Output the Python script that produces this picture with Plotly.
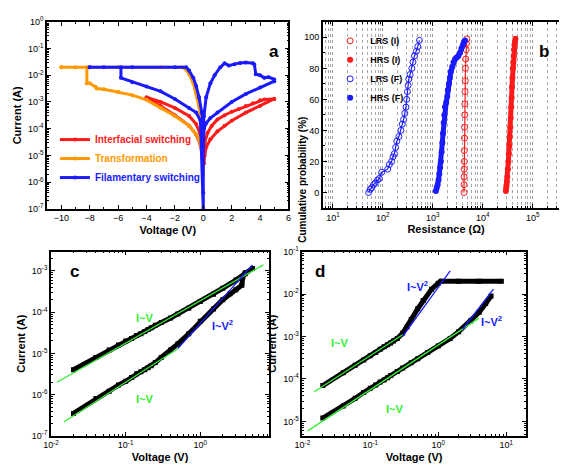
import plotly.graph_objects as go

# ---- panel a: I-V loops
red_up_v = [0.02, 0.1, 0.3, 0.6, 1, 1.5, 2, 2.5, 3, 3.5, 4, 4.3, 5]
red_up_i = [8e-6, 3e-5, 7e-5, 1.3e-4, 2.2e-4, 3.2e-4, 4.3e-4, 5.5e-4, 7e-4, 9e-4, 1.15e-3, 1.25e-3, 1.3e-3]
red_dn_v = [5, 4, 3, 2, 1.5, 1, 0.5, 0.2, 0.1, 0.05]
red_dn_i = [1.3e-3, 7e-4, 4e-4, 2e-4, 1.3e-4, 8e-5, 4e-5, 2e-5, 1e-5, 5e-6]
red_neg1_v = [-0.05, -0.2, -0.5, -1, -2, -3, -4]
red_neg1_i = [2e-5, 6e-5, 1.5e-4, 3e-4, 6e-4, 1e-3, 1.5e-3]
red_neg2_v = [-4, -3, -2, -1, -0.5, -0.2, -0.05]
red_neg2_i = [1.4e-3, 7e-4, 3.2e-4, 1.3e-4, 6e-5, 2.5e-5, 8e-6]

or_v = [0, -0.1, -0.3, -0.5, -1, -2, -3, -4, -5, -6, -7, -7.5, -7.6, -8, -8.2, -8.2, -9, -10,
        -10, -6, -3, -1.5, -1.2, -1, -0.7, -0.5, -0.3, -0.2, -0.1, 0]
or_i = [2e-6, 1.5e-5, 4e-5, 6e-5, 1.3e-4, 3e-4, 6e-4, 1.2e-3, 1.8e-3, 2.4e-3, 3e-3, 3.2e-3, 3.7e-3, 5e-3, 5e-3, 2e-2, 2e-2, 2e-2,
        2e-2, 2e-2, 2e-2, 2e-2, 1.6e-2, 1.1e-2, 5e-3, 2e-3, 7e-4, 3e-4, 1.5e-4, 1.2e-4]

bl_v = [0, 0.05, 0.2, 0.5, 0.8, 1.2, 1.5, 1.8, 2.2, 2.6, 3, 3.5, 3.6, 3.7, 4, 4.3, 4.6, 5,
        5, 4, 3, 2, 1, 0.5, 0.2, 0.05, 0, 0, 0,
        -0.2, -0.5, -1, -2, -3, -4, -5, -5.8, -5.8, -7, -8,
        -8, -5, -2, -1.2, -1, -0.7, -0.5, -0.3, -0.1, 0]
bl_i = [1e-4, 3e-4, 1.5e-3, 5e-3, 1e-2, 2e-2, 2.8e-2, 2.3e-2, 2.6e-2, 2.9e-2, 3e-2, 2.8e-2, 2.5e-2, 1.1e-2, 1e-2, 8e-3, 8.5e-3, 7e-3,
        6e-3, 3.5e-3, 2e-3, 1e-3, 4e-4, 2.5e-4, 1.6e-4, 1e-4, 2e-5, 4e-7, 1e-7,
        2e-4, 4e-4, 6e-4, 1.3e-3, 2.5e-3, 3.8e-3, 5.5e-3, 8e-3, 2e-2, 2e-2, 2e-2,
        2e-2, 2e-2, 2e-2, 2e-2, 1.5e-2, 8e-3, 4e-3, 1.5e-3, 4e-4, 1.5e-4]

# ---- panel b: cumulative probability
lrsf_r = [52, 56, 60, 65, 70, 78, 85, 95, 125, 135, 150, 160, 170, 180, 190, 210, 230, 245, 260, 275, 290, 300, 310, 320, 330, 350, 380, 400, 430, 470, 500, 540]
lrsf_p = [0, 2, 3, 5, 6, 8, 9, 13, 15, 18, 20, 23, 25, 29, 33, 36, 40, 44, 47, 51, 55, 60, 65, 69, 73, 76, 80, 84, 88, 91, 94, 98]
hrsf_r = [1150, 1200, 1250, 1300, 1350, 1400, 1450, 1500, 1550, 1600, 1650, 1700, 1750, 1850, 1950, 2000, 2100, 2200, 2300, 2450, 2600, 2800, 3000, 3250, 3500, 3750, 4000, 4200, 4400]
hrsf_p = [1, 3, 5, 8, 12, 16, 20, 26, 32, 38, 45, 50, 55, 58, 62, 66, 70, 74, 78, 81, 84, 86, 87, 88, 90, 93, 95, 97, 98]
lrsi_r = [4200, 4210, 4220, 4235, 4250, 4270, 4300, 4320, 4350, 4380, 4420, 4460, 4500, 4570, 4650, 4720, 4800]
lrsi_p = [0, 5, 10, 15, 20, 27, 35, 42, 50, 57, 65, 72, 80, 86, 92, 96, 99]
hrsi_r = [29000, 29500, 30000, 30500, 31000, 31800, 32500, 33200, 34000, 34800, 35500, 36200, 37000, 37800, 38500, 39200, 40000, 40800, 41500, 42200, 43000, 44000, 45000]
hrsi_p = [1, 3, 5, 7, 10, 15, 20, 25, 30, 36, 42, 48, 55, 61, 68, 74, 80, 84, 88, 92, 95, 97, 99]

# ---- panel c
c_up_v = [0.02, 0.04, 0.06, 0.08, 0.1, 0.12, 0.14, 0.16, 0.18, 0.2, 0.22, 0.25, 0.3, 0.4, 0.5, 0.7, 1, 1.5, 2, 3, 4, 5]
c_up_i = [4e-6, 8e-6, 1.2e-5, 1.6e-5, 2e-5, 2.3e-5, 2.7e-5, 3e-5, 3.4e-5, 3.8e-5, 4.2e-5, 4.8e-5, 5.6e-5, 7.2e-5, 9e-5, 1.25e-4, 1.8e-4, 2.7e-4, 3.8e-4, 6e-4, 8.5e-4, 1.15e-3]
c_lo_v = [0.02, 0.04, 0.06, 0.08, 0.1, 0.12, 0.14, 0.16, 0.18, 0.2, 0.22, 0.25, 0.3, 0.4, 0.5, 0.7, 1, 1.5, 2, 2.5, 3, 3.6, 3.7, 4]
c_lo_i = [3.5e-7, 8e-7, 1.2e-6, 1.7e-6, 2.1e-6, 2.6e-6, 3.2e-6, 3.6e-6, 4e-6, 4.5e-6, 5e-6, 6e-6, 8e-6, 1.2e-5, 1.7e-5, 3e-5, 6e-5, 1.2e-4, 2e-4, 2.8e-4, 3.5e-4, 4.5e-4, 7e-4, 9e-4]
c_fit1_v, c_fit1_i = [0.012, 7], [2e-6, 1.4e-3]
c_fit2_v, c_fit2_i = [0.015, 0.5], [2.2e-7, 1.3e-5]
c_fit3_v, c_fit3_i = [0.5, 5], [1.3e-5, 1.4e-3]

# ---- panel d
d_up_v = [0.02, 0.04, 0.06, 0.08, 0.1, 0.12, 0.14, 0.16, 0.18, 0.2, 0.22, 0.25, 0.3, 0.35, 0.4, 0.5, 0.6, 0.8, 1, 1.1, 2, 4, 8.5]
d_up_i = [7e-5, 1.4e-4, 2.1e-4, 2.8e-4, 3.5e-4, 4.2e-4, 5e-4, 5.7e-4, 6.4e-4, 7e-4, 7.8e-4, 9e-4, 1.2e-3, 1.7e-3, 2.5e-3, 4.5e-3, 7e-3, 1.3e-2, 1.8e-2, 2e-2, 2e-2, 2e-2, 2e-2]
d_lo_v = [0.02, 0.04, 0.06, 0.08, 0.1, 0.12, 0.14, 0.16, 0.18, 0.2, 0.25, 0.3, 0.4, 0.5, 0.7, 1, 1.5, 2, 3, 4, 5, 6]
d_lo_i = [1.2e-5, 2.3e-5, 3.5e-5, 4.8e-5, 6e-5, 7.2e-5, 8.5e-5, 9.5e-5, 1.07e-4, 1.2e-4, 1.5e-4, 1.8e-4, 2.4e-4, 3e-4, 4.2e-4, 6e-4, 9e-4, 1.3e-3, 2.3e-3, 3.7e-3, 6e-3, 9e-3]
d_fit1_v, d_fit1_i = [0.015, 0.3], [5e-5, 1.1e-3]
d_fit2_v, d_fit2_i = [0.3, 1.5], [1e-3, 3.5e-2]
d_fit3_v, d_fit3_i = [0.012, 4], [6e-6, 2.7e-3]
d_fit4_v, d_fit4_i = [2.3, 6.5], [1.5e-3, 1.3e-2]

RED, ORANGE, BLUE, GREEN = "#ff1a1a", "#ff9900", "#1a1aff", "#33ee33"
FONT = "Liberation Sans"

fig = go.Figure()

def loop(v, i, color, name, show=True):
    fig.add_trace(go.Scatter(x=v, y=i, mode="lines+markers", name=name, showlegend=show,
                             line=dict(color=color, width=3), marker=dict(color=color, size=4),
                             xaxis="x", yaxis="y", legend="legend"))

loop(red_up_v, red_up_i, RED, "<b><span style='color:%s'>Interfacial switching</span></b>" % RED)
loop(red_dn_v, red_dn_i, RED, "", False)
loop(red_neg1_v, red_neg1_i, RED, "", False)
loop(red_neg2_v, red_neg2_i, RED, "", False)
loop(or_v, or_i, ORANGE, "<b><span style='color:%s'>Transformation</span></b>" % ORANGE)
loop(bl_v, bl_i, BLUE, "<b><span style='color:%s'>Filamentary switching</span></b>" % BLUE)

def cdf(r, p, color, name, filled):
    fig.add_trace(go.Scatter(x=r, y=p, mode="lines", showlegend=False,
                             line=dict(color=color, width=5 if filled else 1.2),
                             xaxis="x2", yaxis="y2"))
    fig.add_trace(go.Scatter(x=r, y=p, mode="markers", name="<b>%s</b>" % name,
                             marker=dict(color=color, size=6, symbol="circle" if filled else "circle-open"),
                             xaxis="x2", yaxis="y2", legend="legend2"))

cdf(lrsi_r, lrsi_p, RED, "LRS (I)", False)
cdf(hrsi_r, hrsi_p, RED, "HRS (I)", True)
cdf(lrsf_r, lrsf_p, BLUE, "LRS (F)", False)
cdf(hrsf_r, hrsf_p, BLUE, "HRS (F)", True)

def pts(v, i, xa, ya):
    fig.add_trace(go.Scatter(x=v, y=i, mode="lines+markers", showlegend=False,
                             line=dict(color="black", width=5), marker=dict(color="black", size=5, symbol="square"),
                             xaxis=xa, yaxis=ya))

def fit(v, i, color, xa, ya):
    fig.add_trace(go.Scatter(x=v, y=i, mode="lines", showlegend=False,
                             line=dict(color=color, width=1.3), xaxis=xa, yaxis=ya))

pts(c_up_v, c_up_i, "x3", "y3")
pts(c_lo_v, c_lo_i, "x3", "y3")
fit(c_fit1_v, c_fit1_i, GREEN, "x3", "y3")
fit(c_fit2_v, c_fit2_i, GREEN, "x3", "y3")
fit(c_fit3_v, c_fit3_i, BLUE, "x3", "y3")
pts(d_up_v, d_up_i, "x4", "y4")
pts(d_lo_v, d_lo_i, "x4", "y4")
fit(d_fit1_v, d_fit1_i, GREEN, "x4", "y4")
fit(d_fit2_v, d_fit2_i, BLUE, "x4", "y4")
fit(d_fit3_v, d_fit3_i, GREEN, "x4", "y4")
fit(d_fit4_v, d_fit4_i, BLUE, "x4", "y4")

tickf = dict(family=FONT, size=9, color="black")
titf = dict(family=FONT, size=11, color="black")

def ax(domain, anchor, title, **kw):
    d = dict(domain=domain, anchor=anchor, showline=True, mirror="ticks", linecolor="black", linewidth=1.5,
             ticks="inside", ticklen=4, tickcolor="black", showgrid=False, zeroline=False,
             tickfont=tickf, title=dict(text="<b>%s</b>" % title if title else "", font=titf, standoff=4))
    d.update(kw)
    return d

def logax(lo, hi, **extra):
    exps = list(range(lo, hi + 1))
    d = dict(type="log", tickvals=[10.0 ** e for e in exps],
             ticktext=["10<sup>%d</sup>" % e for e in exps],
             minor=dict(ticks="inside", ticklen=2, tickcolor="black", dtick="D1"))
    d.update(extra)
    return d

fig.update_layout(
    width=567, height=466, margin=dict(l=0, r=0, t=0, b=0),
    plot_bgcolor="white", paper_bgcolor="white", font=dict(family=FONT),
    xaxis=ax([0.056, 0.490], "y", "Voltage (V)", range=[-11, 6], dtick=2,
             minor=dict(ticks="inside", ticklen=2, tickcolor="black", dtick=1)),
    yaxis=ax([0.573, 0.985], "x", "Current (A)", range=[-7, 0], **logax(-7, 0)),
    xaxis2=ax([0.552, 0.995], "y2", "Resistance (Ω)", range=[0.8, 5.73], showgrid=True, gridcolor="#999", griddash="dot",
              **logax(1, 5, minor=dict(ticks="inside", ticklen=2, tickcolor="black", dtick="D1",
                                       showgrid=True, gridcolor="#aaa", griddash="dot"))),
    yaxis2=ax([0.575, 0.985], "x2", "", range=[-10, 110], dtick=20,
              minor=dict(ticks="inside", ticklen=2, tickcolor="black", dtick=10)),
    xaxis3=ax([0.063, 0.455], "y3", "Voltage (V)", range=[-2, 0.92], **logax(-2, 0)),
    yaxis3=ax([0.073, 0.479], "x3", "Current (A)", range=[-7, -2.53], **logax(-7, -3)),
    xaxis4=ax([0.515, 0.917], "y4", "Voltage (V)", range=[-2, 1.29], **logax(-2, 1)),
    yaxis4=ax([0.073, 0.479], "x4", "Current (A)", range=[-5.34, -1], **logax(-5, -1)),
    legend=dict(x=0.07, y=0.61, xanchor="left", yanchor="bottom", bgcolor="rgba(0,0,0,0)",
                font=dict(family=FONT, size=10), itemwidth=30, tracegroupgap=0),
    legend2=dict(x=0.565, y=0.975, xanchor="left", yanchor="top", bgcolor="rgba(0,0,0,0)",
                 font=dict(family=FONT, size=9, color="black"), itemwidth=30),
)

def note(text, x, y, xref, yref, color="black", size=11, angle=0):
    fig.add_annotation(text="<b>%s</b>" % text, x=x, y=y, xref=xref, yref=yref, showarrow=False,
                       textangle=angle, font=dict(family=FONT, size=size, color=color))

note("Cumulative probability (%)", 0.516, 0.78, "paper", "paper", size=10, angle=-90)
note("a", 0.464, 0.946, "paper", "paper", size=17)
note("b", 0.963, 0.946, "paper", "paper", size=17)
note("c", 0.093, 0.436, "paper", "paper", size=17)
note("d", 0.547, 0.436, "paper", "paper", size=17)
note("I~V", -0.75, -4.15, "x3", "y3", GREEN)
note("I~V<sup>2</sup>", 0.3, -4.3, "x3", "y3", BLUE)
note("I~V", -0.75, -6.1, "x3", "y3", GREEN)
note("I~V", -1.45, -3.15, "x4", "y4", GREEN)
note("I~V<sup>2</sup>", -0.3, -1.82, "x4", "y4", BLUE)
note("I~V", -0.65, -4.7, "x4", "y4", GREEN)
note("I~V<sup>2</sup>", 0.78, -2.64, "x4", "y4", BLUE)

fig.write_html("out.html")
